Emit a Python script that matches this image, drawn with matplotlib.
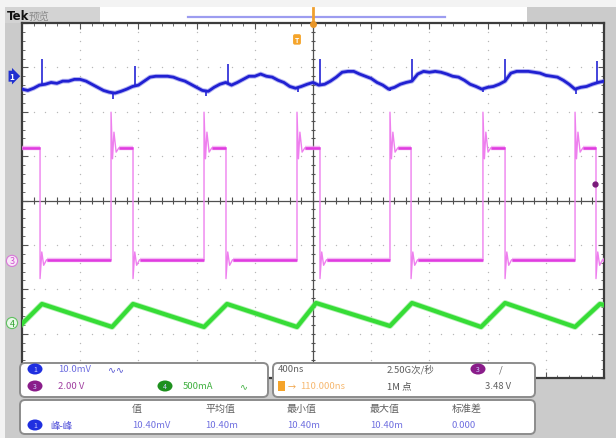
import numpy as np
import matplotlib
matplotlib.use('Agg')
import matplotlib.pyplot as plt
from matplotlib.patches import Rectangle, FancyBboxPatch, Ellipse
from matplotlib import transforms

plt.rcParams['font.family'] = ['Noto Sans CJK SC', 'DejaVu Sans']

W, H = 616, 439

# ---- scope settings ----
time_per_div = 400          # ns
ch1_scale, ch1_offset = 10.0, 2.80     # mV/div, marker position (div)
ch3_scale, ch3_offset = 2.0, -1.36     # V/div
ch4_scale, ch4_offset = 500.0, -2.76   # mA/div
trig_level = 3.48           # V on ch3
h_pos = -110                # ns, trigger point

# ---- ch1 (blue), sampled every 40 ns from -2000 ns ----
ch1_t0, ch1_dt = -2000, 40
ch1_mv = [-2.9, -3.2, -2.7, -2.0, -1.8, -1.4, -1.6, -1.1, -1.1, -0.7,
          -0.7, -1.1, -1.8, -2.5, -3.2, -3.6, -3.8, -3.4, -2.9, -2.3,
          -2.0, -1.1, -0.2, 0.0, 0.0, 0.0, -0.2, -0.7, -1.1, -1.8,
          -2.5, -3.2, -3.4, -2.5, -1.8, -1.4, -2.0, -1.4, -0.7, 0.0,
          0.0, 0.5, 0.0, -0.2, -0.9, -1.4, -2.3, -2.7, -2.3, -1.8,
          -1.4, -2.0, -1.8, -1.1, -0.2, 0.9, 1.1, 1.1, 0.5, 0.0,
          -0.5, -1.4, -2.0, -2.9, -2.5, -1.8, -1.4, -1.1, 0.5, 1.1,
          0.9, 1.1, 0.9, 0.5, 0.0, -0.2, -0.9, -1.8, -2.3, -2.9,
          -2.5, -2.3, -1.8, -1.1, 0.7, 1.1, 1.1, 1.1, 0.9, 0.7,
          0.2, 0.0, -0.2, -0.9, -1.8, -2.9, -2.5, -2.3, -1.8, -1.4,
          -1.1]
# switching spikes on ch1
ch1_spike_t = [-1863, -1375, -1223, -735, -584, -103, 48, 529, 680, 1168, 1320, 1808, 1952]
ch1_spike_from = [-2.0, -3.6, -2.3, -3.2, -1.6, -2.7, -2.0, -2.9, -1.1, -2.9, -1.1, -2.9, -1.4]
ch1_spike_to = [3.8, -5.2, 2.3, -4.5, 2.7, -3.6, 3.8, -3.4, 3.8, -3.6, 3.8, -4.1, 3.4]

# ---- ch3 (magenta), switch node ----
ch3_rise_t = [-1388, -749, -110, 529, 1168, 1801]
ch3_fall_t = [-1876, -1237, -598, 48, 674, 1320, 1945]
ch3_high = 5.1
ch3_low = 0.05
ring_rise_dt = [0, 10, 20, 35, 55]
ring_rise_v = [6.7, 4.6, 5.8, 4.9, 5.1]
ring_fall_dt = [0, 12, 25, 45]
ring_fall_v = [-0.8, 0.4, -0.2, 0.05]

# ---- ch4 (green), inductor current ----
ch4_t = [-2000, -1863, -1381, -1237, -749, -591, -110, 21, 529, 680, 1155, 1320, 1801, 1972, 2000]
ch4_ma = [-11, 214, -45, 214, -45, 214, -45, 225, -34, 225, -45, 225, -45, 214, 203]

# ---- readouts ----
meas_head = ['值', '平均值', '最小值', '最大值', '标准差']
meas_vals = ['10.40mV', '10.40m', '10.40m', '10.40m', '0.000']
meas_x = [132, 205, 287, 370, 452]

fig = plt.figure(figsize=(W / 100, H / 100), dpi=100, facecolor='#f3f3f3')

# background frame, pixel coordinates
bg = fig.add_axes([0, 0, 1, 1], zorder=0)
bg.set_xlim(0, W)
bg.set_ylim(H, 0)
bg.axis('off')
bg.add_patch(Rectangle((5, 8), W - 5, H - 8, fc='#cbcbcb', ec='none'))
bg.add_patch(Rectangle((5, 8), 95, 16, fc='#d3d3d3', ec='none'))
bg.add_patch(Rectangle((100, 8), 427, 16, fc='white', ec='none'))
bg.plot([188, 445], [18, 18], color='#9c9cf0', lw=1.6)
bg.text(7, 17, 'Tek', fontsize=8.5, fontweight='bold', color='#111111',
        va='center', family=['DejaVu Sans'])
bg.text(29, 17, '预览', fontsize=7.5, color='#8a8a8a', va='center')

# scope screen
ax = fig.add_axes([22 / W, 1 - 379 / H, 582 / W, 355 / H], zorder=1)
ax.set_facecolor('white')
ax.set_xlim(-5 * time_per_div, 5 * time_per_div)
ax.set_ylim(-4, 4)
for s in ax.spines.values():
    s.set_color('#3c3c3c')
    s.set_linewidth(1.6)
ax.set_xticks(np.arange(-2000, 2001, 400))
ax.set_yticks(np.arange(-4, 5, 1))
ax.set_xticks(np.arange(-2000, 2001, 80), minor=True)
ax.set_yticks(np.arange(-4, 4.01, 0.2), minor=True)
ax.tick_params(which='both', direction='in', top=True, right=True,
               labelbottom=False, labelleft=False, color='#555555')
ax.tick_params(which='major', length=4)
ax.tick_params(which='minor', length=2.5)

# dotted graticule
gx, gy = [], []
for xv in np.arange(-1600, 1601, 400):
    if xv == 0:
        continue
    for yv in np.arange(-4, 4.01, 0.2):
        gx.append(xv)
        gy.append(yv)
for yv in range(-3, 4):
    if yv == 0:
        continue
    for xv in np.arange(-2000, 2001, 80):
        gx.append(xv)
        gy.append(yv)
ax.scatter(gx, gy, s=1.0, color='#b8b8b8', lw=0, zorder=1)
ax.axhline(0, color='#505050', lw=0.9, zorder=1)
ax.axvline(0, color='#505050', lw=0.9, zorder=1)
ct = np.arange(-2000, 2001, 80)
ax.vlines(ct, -0.07, 0.07, color='#505050', lw=0.8, zorder=1)
cy = np.arange(-4, 4.01, 0.2)
ax.hlines(cy, -14, 14, color='#505050', lw=0.8, zorder=1)

# ch4 trace
y4 = np.array(ch4_ma) / ch4_scale + ch4_offset
ax.plot(ch4_t, y4, color='#7ee87e', lw=4.2, alpha=0.6, zorder=3)
ax.plot(ch4_t, y4, color='#36dc36', lw=3.0, solid_joinstyle='round', zorder=3)

# ch3 trace
events = sorted([(t, 'f') for t in ch3_fall_t] + [(t, 'r') for t in ch3_rise_t])
pt, pv = [-2000], [ch3_high]
level = ch3_high
flats = []
seg_start = -2000
for t, kind in events:
    flats.append((seg_start, t, level))
    pt.append(t)
    pv.append(level)
    if kind == 'f':
        for d, v in zip(ring_fall_dt, ring_fall_v):
            pt.append(t + d)
            pv.append(v)
        level = ch3_low
        seg_start = t + ring_fall_dt[-1]
    else:
        for d, v in zip(ring_rise_dt, ring_rise_v):
            pt.append(t + d)
            pv.append(v)
        level = ch3_high
        seg_start = t + ring_rise_dt[-1]
pt.append(2000)
pv.append(level)
flats.append((seg_start, 2000, level))
pv = np.array(pv)
ax.plot(pt, pv / ch3_scale + ch3_offset, color='#ee80ee', lw=1.0, zorder=4)
for a, b, lv in flats:
    ax.plot([a, b], [lv / ch3_scale + ch3_offset] * 2, color='#f0a0f0',
            lw=3.2, alpha=0.7, solid_capstyle='butt', zorder=4)
    ax.plot([a, b], [lv / ch3_scale + ch3_offset] * 2, color='#e03ce0',
            lw=1.8, solid_capstyle='butt', zorder=4)

# ch1 trace
t1 = ch1_t0 + ch1_dt * np.arange(len(ch1_mv))
y1 = np.array(ch1_mv) / ch1_scale + ch1_offset
ax.plot(t1, y1, color='#6a6ae6', lw=3.4, alpha=0.5, zorder=5)
ax.plot(t1, y1, color='#2020d2', lw=2.0, solid_joinstyle='round', zorder=5)
ax.vlines(ch1_spike_t, np.array(ch1_spike_from) / ch1_scale + ch1_offset,
          np.array(ch1_spike_to) / ch1_scale + ch1_offset,
          color='#2424d6', lw=1.2, zorder=5)

# trigger markers
ax.plot([0.985], [trig_level / ch3_scale + ch3_offset], 'o', ms=3.5,
        color='#7a1a7a', transform=transforms.blended_transform_factory(
            ax.transAxes, ax.transData), zorder=6)
ax.text(h_pos, 3.63, 'T', fontsize=5, color='white', ha='center', va='center',
        fontweight='bold', zorder=6,
        bbox=dict(boxstyle='round,pad=0.25', fc='#f5a42a', ec='none'))

# overlay: markers and readout panels
ov = fig.add_axes([0, 0, 1, 1], zorder=3)
ov.set_xlim(0, W)
ov.set_ylim(H, 0)
ov.axis('off')
ov.patch.set_alpha(0)
ov.plot([313, 313], [9, 24], color='#f0a030', lw=2)
ov.plot([313], [25], 'o', ms=4, color='#e8962a')


def ypix(off):
    return 201.5 - off * 44.4


ov.text(12, ypix(ch1_offset), '1', fontsize=6, color='white', ha='center',
        va='center', fontweight='bold',
        bbox=dict(boxstyle='rarrow,pad=0.12', fc='#2030d0', ec='none'))
ov.text(12, ypix(ch3_offset), '3', fontsize=6.5, color='#d050d0', ha='center',
        va='center', bbox=dict(boxstyle='circle,pad=0.12', fc='#f8e8f8', ec='#d878d8', lw=0.8))
ov.text(12, ypix(ch4_offset), '4', fontsize=6.5, color='#30a030', ha='center',
        va='center', bbox=dict(boxstyle='circle,pad=0.12', fc='#e8f8e8', ec='#60c060', lw=0.8))

for (x0, y0, w, h) in [(20, 364, 248, 34), (273, 364, 262, 34), (20, 401, 515, 34)]:
    ov.add_patch(FancyBboxPatch((x0, y0), w, h, boxstyle='round,pad=0,rounding_size=5',
                                fc='white', ec='#8c8c8c', lw=1.4))


def badge(x, y, col, num):
    ov.add_patch(Ellipse((x, y), 15, 11, fc=col, ec='none'))
    ov.text(x, y, num, fontsize=5, color='#d0d0ff', ha='center', va='center')


badge(35, 370, '#1f2fe0', '1')
badge(35, 387, '#8a1d8a', '3')
badge(165, 387, '#1e901e', '4')
badge(478, 370, '#8a1d8a', '3')
badge(35, 426, '#1f2fe0', '1')

fs = 6.8
ov.text(58, 370, '10.0mV', fontsize=fs, color='#6d6de0', va='center')
ov.text(108, 370, '∿∿', fontsize=fs, color='#5050d0', va='center')
ov.text(58, 387, '2.00 V', fontsize=fs, color='#a040a0', va='center')
ov.text(183, 387, '500mA', fontsize=fs, color='#40b040', va='center')
ov.text(240, 387, '∿', fontsize=fs, color='#40b040', va='center')

ov.text(278, 370, '400ns', fontsize=fs, color='#606060', va='center')
ov.text(387, 370, '2.50G次/秒', fontsize=fs, color='#606060', va='center')
ov.text(499, 370, '/', fontsize=fs, color='#606060', va='center')
ov.add_patch(Rectangle((278, 382), 7, 10, fc='#f5a42a', ec='none'))
ov.text(288, 387, '→', fontsize=fs - 1, color='#f0a040', va='center')
ov.text(300, 387, '%.3fns' % abs(h_pos), fontsize=fs, color='#f6b870', va='center')
ov.text(387, 387, '1M 点', fontsize=fs, color='#505050', va='center')
ov.text(511, 387, '%.2f V' % trig_level, fontsize=fs, color='#606060', va='center', ha='right')

ov.text(50, 426, '峰-峰', fontsize=fs, color='#4a4ad8', va='center')
for x, hd, v in zip(meas_x, meas_head, meas_vals):
    ov.text(x, 409, hd, fontsize=7.2, color='#606060', va='center')
    ov.text(x, 426, v, fontsize=fs, color='#7070e0', va='center')

plt.savefig('out.png', dpi=100, facecolor=fig.get_facecolor())
